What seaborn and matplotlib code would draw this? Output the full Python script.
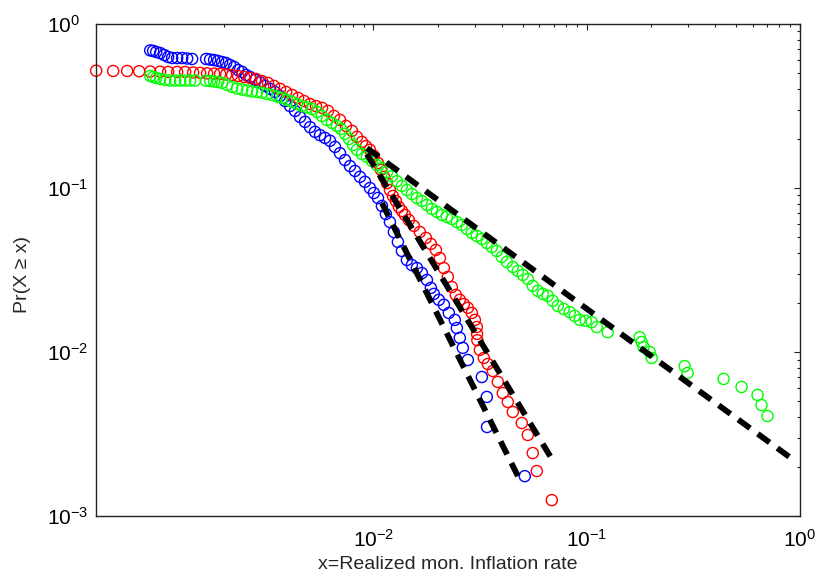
import matplotlib
matplotlib.use("Agg")
import matplotlib.pyplot as plt
import matplotlib.ticker as mticker
import pandas as pd
import seaborn as sns

# Empirical tail distributions Pr(X >= x) of realized monthly inflation
red_x = [5.01e-4, 6.02e-4, 7.00e-4, 7.97e-4, 8.98e-4, 1.000e-3, 1.090e-3, 1.201e-3, 1.309e-3, 1.427e-3,
         1.539e-3, 1.660e-3, 1.790e-3, 1.910e-3, 2.038e-3, 2.174e-3, 2.320e-3, 2.475e-3, 2.640e-3, 2.816e-3,
         3.004e-3, 3.205e-3, 3.420e-3, 3.648e-3, 3.893e-3, 4.153e-3, 4.431e-3, 4.727e-3, 5.042e-3, 5.379e-3,
         5.739e-3, 6.122e-3, 6.531e-3, 6.968e-3, 7.435e-3, 7.931e-3, 8.369e-3, 8.833e-3, 9.224e-3, 9.630e-3,
         1.005e-2, 1.050e-2, 1.084e-2, 1.120e-2, 1.157e-2, 1.195e-2, 1.234e-2, 1.275e-2, 1.316e-2, 1.360e-2,
         1.405e-2, 1.466e-2, 1.547e-2, 1.651e-2, 1.762e-2, 1.859e-2, 1.962e-2, 2.049e-2, 2.139e-2, 2.233e-2,
         2.331e-2, 2.434e-2, 2.541e-2, 2.654e-2, 2.771e-2, 2.893e-2, 2.989e-2, 3.053e-2, 3.060e-2, 3.070e-2,
         3.154e-2, 3.293e-2, 3.438e-2, 3.629e-2, 3.829e-2, 4.041e-2, 4.266e-2, 4.502e-2, 4.961e-2, 5.292e-2,
         5.586e-2, 5.833e-2, 6.857e-2]
red_y = [0.519, 0.517, 0.517, 0.515, 0.513, 0.512, 0.510, 0.510, 0.510, 0.506,
         0.503, 0.500, 0.498, 0.496, 0.492, 0.489, 0.482, 0.475, 0.469, 0.462,
         0.449, 0.437, 0.419, 0.402, 0.385, 0.369, 0.354, 0.339, 0.325, 0.316,
         0.308, 0.295, 0.275, 0.260, 0.239, 0.223, 0.205, 0.191, 0.180, 0.171,
         0.157, 0.142, 0.129, 0.117, 0.107, 0.0972, 0.0894, 0.0833, 0.0766, 0.0724,
         0.0685, 0.0638, 0.0587, 0.0539, 0.0496, 0.0456, 0.0419, 0.0374, 0.0325, 0.0287,
         0.0249, 0.0223, 0.0208, 0.0196, 0.0186, 0.0173, 0.0157, 0.0142, 0.0129, 0.0118,
         0.0103, 0.0092, 0.00845, 0.00766, 0.00657, 0.00562, 0.00496, 0.00431, 0.00369, 0.00312,
         0.00242, 0.00188, 0.00125]

blue_x = [8.98e-4, 9.27e-4, 9.58e-4, 1.000e-3, 1.044e-3, 1.090e-3, 1.138e-3, 1.201e-3, 1.268e-3, 1.338e-3,
          1.412e-3, 1.642e-3, 1.714e-3, 1.790e-3, 1.869e-3, 1.952e-3, 2.038e-3, 2.128e-3, 2.222e-3, 2.320e-3,
          2.422e-3, 2.528e-3, 2.640e-3, 2.786e-3, 2.941e-3, 3.103e-3, 3.275e-3, 3.457e-3, 3.648e-3, 3.851e-3,
          4.064e-3, 4.290e-3, 4.527e-3, 4.778e-3, 5.042e-3, 5.321e-3, 5.617e-3, 5.927e-3, 6.256e-3, 6.602e-3,
          6.968e-3, 7.355e-3, 7.762e-3, 8.191e-3, 8.645e-3, 9.125e-3, 9.630e-3, 1.005e-2, 1.050e-2, 1.096e-2,
          1.144e-2, 1.195e-2, 1.247e-2, 1.302e-2, 1.360e-2, 1.435e-2, 1.514e-2, 1.599e-2, 1.687e-2, 1.781e-2,
          1.859e-2, 1.920e-2, 2.027e-2, 2.139e-2, 2.257e-2, 2.408e-2, 2.461e-2, 2.541e-2, 2.625e-2, 2.771e-2,
          3.223e-2, 3.401e-2, 3.410e-2, 5.124e-2]
blue_y = [0.690, 0.685, 0.675, 0.665, 0.647, 0.629, 0.620, 0.620, 0.620, 0.616,
          0.612, 0.612, 0.607, 0.603, 0.595, 0.586, 0.578, 0.562, 0.547, 0.524,
          0.510, 0.489, 0.475, 0.456, 0.443, 0.419, 0.402, 0.385, 0.364, 0.339,
          0.316, 0.295, 0.271, 0.253, 0.235, 0.220, 0.210, 0.202, 0.194, 0.178,
          0.163, 0.148, 0.136, 0.127, 0.117, 0.109, 0.100, 0.0932, 0.0869, 0.0777,
          0.0694, 0.0620, 0.0539, 0.0469, 0.0413, 0.0364, 0.0339, 0.0325, 0.0303, 0.0275,
          0.0246, 0.0226, 0.0208, 0.0194, 0.0173, 0.0157, 0.0140, 0.0122, 0.0106, 0.00894,
          0.00704, 0.00532, 0.00349, 0.00175]

green_x = [8.98e-4, 9.27e-4, 9.58e-4, 1.000e-3, 1.055e-3, 1.114e-3, 1.176e-3, 1.241e-3, 1.309e-3, 1.382e-3,
           1.458e-3, 1.642e-3, 1.714e-3, 1.790e-3, 1.869e-3, 1.952e-3, 2.060e-3, 2.174e-3, 2.295e-3, 2.422e-3,
           2.556e-3, 2.697e-3, 2.847e-3, 3.004e-3, 3.171e-3, 3.347e-3, 3.532e-3, 3.728e-3, 3.935e-3, 4.153e-3,
           4.384e-3, 4.626e-3, 4.882e-3, 5.152e-3, 5.437e-3, 5.739e-3, 6.056e-3, 6.392e-3, 6.746e-3, 7.043e-3,
           7.355e-3, 7.679e-3, 8.017e-3, 8.369e-3, 8.833e-3, 9.324e-3, 9.840e-3, 1.038e-2, 1.096e-2, 1.157e-2,
           1.221e-2, 1.288e-2, 1.360e-2, 1.435e-2, 1.514e-2, 1.599e-2, 1.687e-2, 1.781e-2, 1.879e-2, 1.984e-2,
           2.094e-2, 2.209e-2, 2.331e-2, 2.461e-2, 2.597e-2, 2.741e-2, 2.893e-2, 3.053e-2, 3.223e-2, 3.401e-2,
           3.590e-2, 3.788e-2, 3.998e-2, 4.220e-2, 4.502e-2, 4.752e-2, 5.014e-2, 5.292e-2, 5.586e-2, 5.896e-2,
           6.222e-2, 6.568e-2, 6.931e-2, 7.314e-2, 7.803e-2, 8.325e-2, 8.786e-2, 9.272e-2, 9.893e-2, 0.1055,
           0.1114, 0.1254, 0.1771, 0.1810, 0.1849, 0.1973, 0.2016, 0.2878, 0.2972, 0.4384,
           0.5321, 0.6324, 0.6602, 0.7043]
green_y = [0.482, 0.475, 0.469, 0.462, 0.456, 0.452, 0.452, 0.452, 0.452, 0.452,
           0.452, 0.451, 0.449, 0.446, 0.443, 0.437, 0.425, 0.413, 0.404, 0.399,
           0.393, 0.388, 0.385, 0.380, 0.374, 0.369, 0.361, 0.354, 0.344, 0.335,
           0.325, 0.316, 0.310, 0.303, 0.291, 0.275, 0.260, 0.249, 0.239, 0.229,
           0.214, 0.199, 0.183, 0.171, 0.161, 0.155, 0.146, 0.138, 0.132, 0.125,
           0.118, 0.110, 0.103, 0.0972, 0.0919, 0.0869, 0.0833, 0.0788, 0.0745, 0.0714,
           0.0685, 0.0666, 0.0647, 0.0620, 0.0595, 0.0562, 0.0532, 0.0510, 0.0489, 0.0462,
           0.0437, 0.0413, 0.0380, 0.0354, 0.0330, 0.0312, 0.0295, 0.0279, 0.0253, 0.0236,
           0.0226, 0.0220, 0.0205, 0.0191, 0.0183, 0.0175, 0.0166, 0.0157, 0.0155, 0.0152,
           0.0142, 0.0132, 0.0123, 0.0115, 0.0107, 0.0100, 0.0092, 0.0082, 0.00745, 0.00685,
           0.00612, 0.00547, 0.00475, 0.00407]

# Power-law tail fits (start and end of each fitted line)
red_fit_x = [9.32e-3, 6.86e-2]
red_fit_y = [0.161, 2.23e-3]
blue_fit_x = [1.096e-2, 4.96e-2]
blue_fit_y = [0.0810, 1.57e-3]
green_fit_x = [9.32e-3, 0.963]
green_fit_y = [0.175, 2.13e-3]

x_major = [1e-2, 1e-1, 1e0]
x_minor = [k * d for d in (1e-3, 1e-2, 1e-1) for k in range(2, 10)]
y_major = [1e-3, 1e-2, 1e-1, 1e0]

sns.set_style("white")
plt.rcParams["font.family"] = ["Liberation Sans", "DejaVu Sans"]
plt.rcParams["mathtext.fontset"] = "custom"
plt.rcParams["mathtext.rm"] = "Liberation Sans"

fig = plt.figure(figsize=(8.21, 5.75), dpi=100)
ax = fig.add_axes([0.1169, 0.1026, 0.8575, 0.8557])

series = [
    (blue_x, blue_y, (0, 0, 1)),
    (red_x, red_y, (1, 0, 0)),
    (green_x, green_y, (0, 1, 0)),
]
for xs, ys, col in series:
    df = pd.DataFrame({"x": xs, "y": ys})
    sns.scatterplot(data=df, x="x", y="y", ax=ax, marker="o", s=64,
                    facecolors="none", edgecolor=col, linewidth=1.0,
                    clip_on=False, legend=False, zorder=2)

for fx, fy in [(blue_fit_x, blue_fit_y), (red_fit_x, red_fit_y), (green_fit_x, green_fit_y)]:
    fdf = pd.DataFrame({"x": fx, "y": fy})
    sns.lineplot(data=fdf, x="x", y="y", ax=ax, color="black", lw=4.2,
                 linestyle=(0, (2.5, 1.65)), estimator=None, sort=False,
                 legend=False, zorder=3)

ax.set_xscale("log")
ax.set_yscale("log")
ax.set_xlim(5e-4, 1.0)
ax.set_ylim(1e-3, 1.0)

ax.xaxis.set_major_locator(mticker.FixedLocator(x_major))
ax.xaxis.set_minor_locator(mticker.FixedLocator(x_minor))
ax.xaxis.set_minor_formatter(mticker.NullFormatter())
ax.yaxis.set_major_locator(mticker.FixedLocator(y_major))
ax.yaxis.set_minor_locator(mticker.LogLocator(base=10, subs=range(2, 10)))
ax.yaxis.set_minor_formatter(mticker.NullFormatter())
ax.xaxis.set_major_formatter(mticker.LogFormatterSciNotation())
ax.yaxis.set_major_formatter(mticker.LogFormatterSciNotation())

ax.tick_params(which="both", direction="in", top=True, right=True,
               color="#222222", width=0.8, labelsize=15, labelcolor="black")
ax.tick_params(which="major", length=4.5)
ax.tick_params(which="minor", length=2.3)
ax.tick_params(axis="x", which="major", pad=9)
# exponent labels start at a common left edge, as in MATLAB log axes
ax.tick_params(axis="y", which="major", pad=35)
for lab in ax.get_yticklabels():
    lab.set_horizontalalignment("left")

for sp in ax.spines.values():
    sp.set_color("#222222")
    sp.set_linewidth(1.0)
    sp.set_visible(True)

ax.set_xlabel("x=Realized mon. Inflation rate", fontsize=14)
ax.set_ylabel("Pr(X \u2265 x)", fontsize=14)
ax.xaxis.set_label_coords(0.5, -0.081)
ax.yaxis.set_label_coords(-0.093, 0.49)

fig.savefig("out.png", dpi=100, facecolor="white")
